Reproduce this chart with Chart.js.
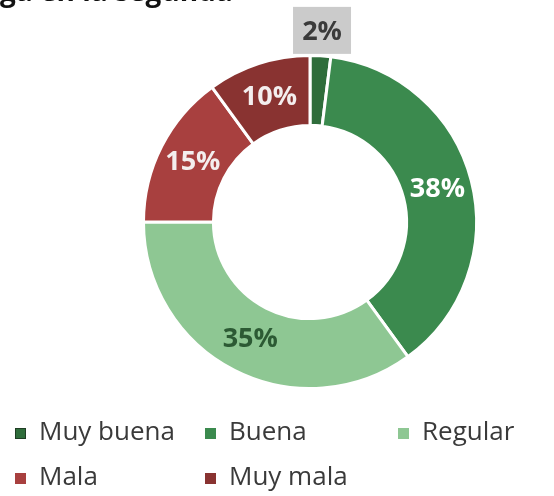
<!DOCTYPE html>
<html>
<head>
<meta charset="utf-8">
<script src="https://cdn.jsdelivr.net/npm/chart.js@4"></script>
<style>
  html, body { margin: 0; padding: 0; background: #ffffff; }
  #wrap { width: 554px; height: 496px; position: relative; }
</style>
</head>
<body>
<div id="wrap"><canvas id="donaCarga" width="554" height="496"></canvas></div>
<script>
// categorias y porcentajes
const categorias = ["Muy buena", "Buena", "Regular", "Mala", "Muy mala"];
const porcentajes = [2, 38, 35, 15, 10];
const colores = ["#2f6d3b", "#3b8a4e", "#8ec793", "#a8403f", "#893331"];
const coloresTexto = ["#3a3a3a", "#ffffff", "#2c5a34", "#f4eeee", "#f4eeee"];
const titulo = "ga en la segunda";

const fuente = "'Open Sans', 'Noto Sans', sans-serif";

// etiquetas de porcentaje sobre cada sector
const etiquetas = {
    id: "etiquetas",
    afterDatasetsDraw(chart) {
        const ctx = chart.ctx;
        const meta = chart.getDatasetMeta(0);
        ctx.save();
        ctx.font = "bold 27px " + fuente;
        ctx.textAlign = "center";
        ctx.textBaseline = "middle";
        meta.data.forEach((arc, i) => {
            const texto = porcentajes[i] + "%";
            if (i == 0) {
                // el sector pequeño lleva la etiqueta fuera, en un recuadro gris
                const p = arc.getProps(["x", "y", "startAngle", "endAngle", "outerRadius"], true);
                const ang = (p.startAngle + p.endAngle) / 2;
                const x = p.x + Math.cos(ang) * (p.outerRadius + 25);
                const y = p.y + Math.sin(ang) * (p.outerRadius + 25);
                ctx.fillStyle = "#cbcbcb";
                ctx.fillRect(x - 29, y - 24, 58, 47);
                ctx.fillStyle = coloresTexto[i];
                ctx.fillText(texto, x, y + 1);
            } else {
                const c = arc.getCenterPoint();
                ctx.fillStyle = coloresTexto[i];
                ctx.fillText(texto, c.x, c.y);
            }
        });
        ctx.restore();
    }
};

// leyenda en columnas debajo del anillo
const leyenda = {
    id: "leyenda",
    afterDraw(chart) {
        const ctx = chart.ctx;
        const items = Chart.overrides.doughnut.plugins.legend.labels.generateLabels(chart);
        const columnas = [15, 205, 398];
        const filas = [433, 478];
        ctx.save();
        ctx.font = "26px " + fuente;
        ctx.textBaseline = "middle";
        items.forEach((it, i) => {
            const x = columnas[i % 3];
            const y = filas[Math.floor(i / 3)];
            ctx.fillStyle = it.fillStyle;
            ctx.fillRect(x, y - 5, 11, 11);
            if (i == 0) {
                ctx.strokeStyle = "#1f3d24";
                ctx.lineWidth = 1;
                ctx.strokeRect(x + 0.5, y - 4.5, 10, 10);
            }
            ctx.fillStyle = "#3a3a3a";
            ctx.fillText(it.text, x + 24, y);
        });
        // titulo cortado en el borde superior
        ctx.font = "bold 28px " + fuente;
        ctx.fillStyle = "#111111";
        ctx.textBaseline = "alphabetic";
        ctx.fillText(titulo, 0, 1);
        ctx.restore();
    }
};

let ctxDona = document.getElementById("donaCarga").getContext("2d");
let chart = new Chart(ctxDona, {
    type: "doughnut",
    data: {
        labels: categorias,
        datasets: [{
            data: porcentajes,
            backgroundColor: colores,
            borderColor: "#ffffff",
            borderWidth: 3
        }]
    },
    options: {
        responsive: false,
        maintainAspectRatio: false,
        animation: false,
        cutout: "58%",
        layout: {
            padding: { left: 140, right: 74, top: 54, bottom: 106 }
        },
        plugins: {
            legend: { display: false },
            tooltip: { enabled: false }
        }
    },
    plugins: [etiquetas, leyenda]
});
</script>
</body>
</html>
